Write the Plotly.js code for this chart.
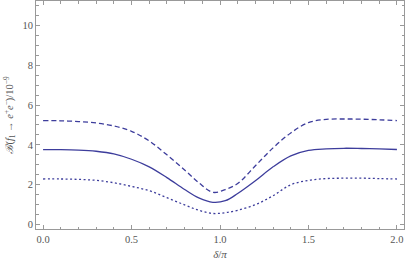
<!DOCTYPE html>
<html>
<head>
<meta charset="utf-8">
<script src="https://cdn.plot.ly/plotly-3.0.1.min.js"></script>
<style>html,body{margin:0;padding:0;background:#fff;}#chart{width:407px;height:266px;}</style>
</head>
<body>
<div id="chart"></div>
<script>
const delta = [0.0, 0.1, 0.2, 0.3, 0.4, 0.5, 0.6, 0.7, 0.8, 0.88, 0.96, 1.03, 1.1, 1.2, 1.3, 1.4, 1.5, 1.6, 1.7, 1.8, 1.9, 2.0];
const solid = [3.76, 3.76, 3.74, 3.68, 3.55, 3.28, 2.9, 2.36, 1.76, 1.34, 1.12, 1.2, 1.56, 2.2, 2.9, 3.45, 3.72, 3.8, 3.83, 3.82, 3.8, 3.77];
const dashed = [5.22, 5.21, 5.17, 5.1, 4.95, 4.68, 4.2, 3.5, 2.74, 2.1, 1.62, 1.76, 2.06, 2.95, 3.85, 4.6, 5.12, 5.28, 5.3, 5.29, 5.26, 5.22];
const dotted = [2.29, 2.29, 2.27, 2.22, 2.1, 1.92, 1.7, 1.35, 0.99, 0.72, 0.56, 0.6, 0.72, 1.0, 1.45, 2.0, 2.22, 2.31, 2.33, 2.33, 2.31, 2.29];

const col = '#3d3d9c';
const serif = 'Liberation Serif';
const tickFont = {family: serif, size: 10.5, color: '#555'};
const mk = (y, dash) => ({x: delta, y: y, type: 'scatter', mode: 'lines',
  line: {color: col, width: 1.3, dash: dash, shape: 'spline', smoothing: 1}, hoverinfo: 'none', showlegend: false});

const data = [mk(dashed, '5px,3px'), mk(solid, 'solid'), mk(dotted, '2px,2.5px')];

const axisBase = {
  showgrid: false, zeroline: false, showline: true, linecolor: '#999', linewidth: 1,
  mirror: 'ticks', ticks: 'inside', ticklen: 4, tickcolor: '#999', tickwidth: 1,
  tickfont: tickFont
};

const layout = {
  width: 407, height: 266,
  margin: {l: 36, r: 3, t: 1, b: 37},
  paper_bgcolor: '#fff', plot_bgcolor: '#fff',
  xaxis: Object.assign({}, axisBase, {
    range: [-0.04, 2.04], tickvals: [0, 0.5, 1, 1.5, 2], ticktext: ['0.0', '0.5', '1.0', '1.5', '2.0'],
    minor: {dtick: 0.1, tick0: 0, ticks: 'inside', ticklen: 2.5, tickcolor: '#999'},
    title: {text: '<i>δ</i>/<i>π</i>', font: {family: serif, size: 11, color: '#555'}, standoff: 6}
  }),
  yaxis: Object.assign({}, axisBase, {
    range: [-0.22, 11.22], tickvals: [0, 2, 4, 6, 8, 10],
    minor: {dtick: 0.5, tick0: 0, ticks: 'inside', ticklen: 2.5, tickcolor: '#999'},
    title: {text: '<i>ℬ</i>(<i>f</i><sub>1</sub> → <i>e</i><sup>+</sup><i>e</i><sup>−</sup>)/10<sup>−9</sup>', font: {family: serif, size: 10.5, color: '#555'}, standoff: 6}
  })
};

Plotly.newPlot('chart', data, layout, {displayModeBar: false, staticPlot: true});
</script>
</body>
</html>
